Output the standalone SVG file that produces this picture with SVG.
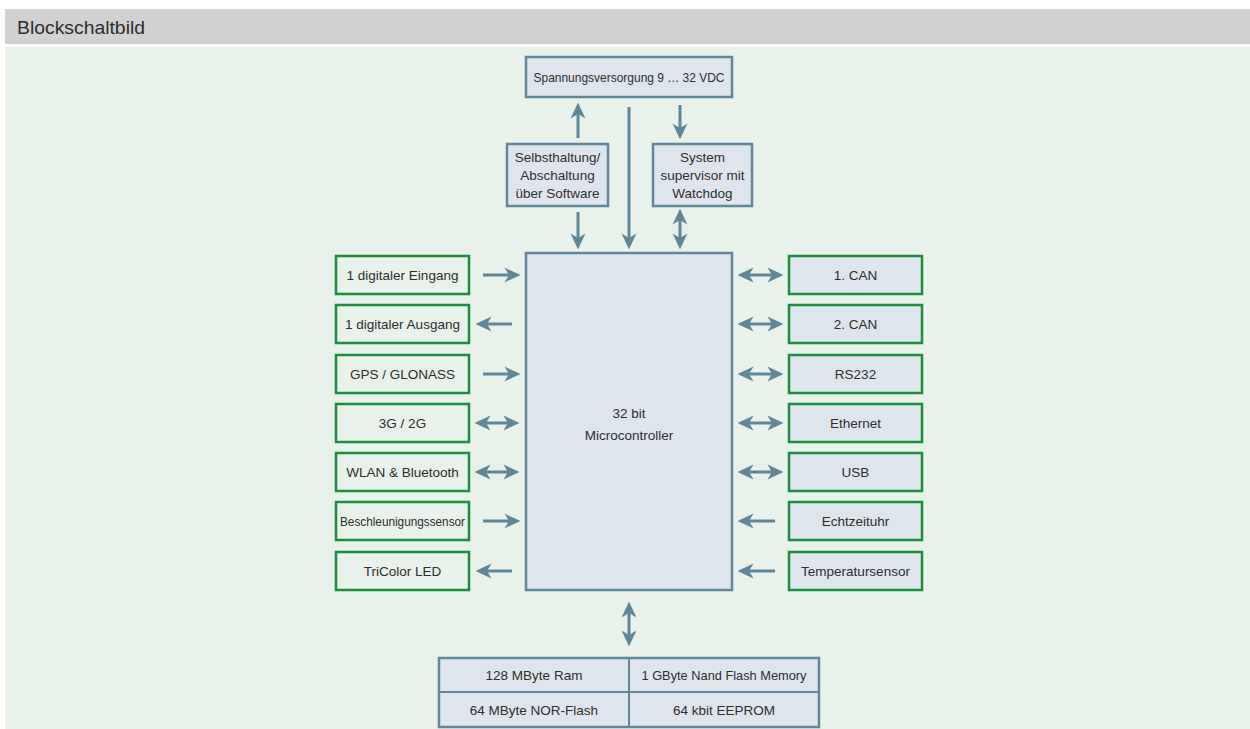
<svg xmlns="http://www.w3.org/2000/svg" width="1250" height="729" viewBox="0 0 1250 729">
<defs>
<style>
.t{font-family:"Liberation Sans",Arial,sans-serif;font-size:13.5px;fill:#2e2e2e;text-anchor:middle}
.g{fill:#e8f1ea;stroke:#1a8f3e;stroke-width:2.5}
.gb{fill:#dee5ec;stroke:#1a8f3e;stroke-width:2.5}
.b{fill:#dee5ec;stroke:#62879a;stroke-width:2.5}
.a{stroke:#5f8798;stroke-width:3;fill:none}
.e{marker-end:url(#ah)}
.d{marker-start:url(#ah);marker-end:url(#ah)}
</style>
<marker id="ah" markerUnits="userSpaceOnUse" markerWidth="16" markerHeight="16" viewBox="0 0 14 14" refX="4" refY="7" orient="auto-start-reverse">
<path d="M0,0.5 L14,7 L0,13.5 L4,7 Z" fill="#5f8798"/>
</marker>
</defs>
<rect x="0" y="0" width="1250" height="729" fill="#ffffff"/>
<rect x="5" y="9" width="1245" height="35" fill="#d1d1d1"/>
<text x="17" y="34" style="font-family:'Liberation Sans',Arial,sans-serif;font-size:19px;fill:#2e2e2e" textLength="128" lengthAdjust="spacingAndGlyphs">Blockschaltbild</text>
<rect x="5" y="47" width="1245" height="682" fill="#e8f1ea"/>

<g id="power"><rect class="b" x="526" y="57" width="206" height="40"/><text class="t" x="629" y="82" textLength="191" lengthAdjust="spacingAndGlyphs">Spannungsversorgung 9 … 32 VDC</text></g>
<g id="selbsthaltung"><rect class="b" x="507" y="144" width="101" height="62"/><text class="t" x="557.5" y="162">Selbsthaltung/</text><text class="t" x="557.5" y="180">Abschaltung</text><text class="t" x="557.5" y="198">über Software</text></g>
<g id="supervisor"><rect class="b" x="653" y="144" width="99" height="62"/><text class="t" x="702.5" y="162">System</text><text class="t" x="702.5" y="180">supervisor mit</text><text class="t" x="702.5" y="198">Watchdog</text></g>
<g id="mcu"><rect class="b" x="526" y="253" width="206" height="337"/><text class="t" x="629" y="418">32 bit</text><text class="t" x="629" y="440">Microcontroller</text></g>

<g id="in1"><rect class="g" x="336" y="256" width="133" height="38"/><text class="t" x="402.5" y="280">1 digitaler Eingang</text></g>
<g id="out1"><rect class="g" x="336" y="305" width="133" height="38"/><text class="t" x="402.5" y="329">1 digitaler Ausgang</text></g>
<g id="gps"><rect class="g" x="336" y="355" width="133" height="38"/><text class="t" x="402.5" y="379">GPS / GLONASS</text></g>
<g id="g3"><rect class="g" x="336" y="404" width="133" height="38"/><text class="t" x="402.5" y="428">3G / 2G</text></g>
<g id="wlan"><rect class="g" x="336" y="453" width="133" height="38"/><text class="t" x="402.5" y="477">WLAN &amp; Bluetooth</text></g>
<g id="accel"><rect class="g" x="336" y="502" width="133" height="38"/><text class="t" x="402.5" y="526" textLength="125" lengthAdjust="spacingAndGlyphs">Beschleunigungssensor</text></g>
<g id="led"><rect class="g" x="336" y="552" width="133" height="38"/><text class="t" x="402.5" y="576">TriColor LED</text></g>

<g id="can1"><rect class="gb" x="789" y="256" width="133" height="38"/><text class="t" x="855.5" y="280">1. CAN</text></g>
<g id="can2"><rect class="gb" x="789" y="305" width="133" height="38"/><text class="t" x="855.5" y="329">2. CAN</text></g>
<g id="rs232"><rect class="gb" x="789" y="355" width="133" height="38"/><text class="t" x="855.5" y="379">RS232</text></g>
<g id="eth"><rect class="gb" x="789" y="404" width="133" height="38"/><text class="t" x="855.5" y="428">Ethernet</text></g>
<g id="usb"><rect class="gb" x="789" y="453" width="133" height="38"/><text class="t" x="855.5" y="477">USB</text></g>
<g id="rtc"><rect class="gb" x="789" y="502" width="133" height="38"/><text class="t" x="855.5" y="526">Echtzeituhr</text></g>
<g id="temp"><rect class="gb" x="789" y="552" width="133" height="38"/><text class="t" x="855.5" y="576">Temperatursensor</text></g>

<g id="memory">
<rect class="b" x="439" y="658" width="380" height="69"/>
<line x1="629" y1="658" x2="629" y2="727" stroke="#62879a" stroke-width="2"/>
<line x1="439" y1="692" x2="819" y2="692" stroke="#62879a" stroke-width="2"/>
<text class="t" x="534" y="680">128 MByte Ram</text>
<text class="t" x="724" y="680" textLength="165" lengthAdjust="spacingAndGlyphs">1 GByte Nand Flash Memory</text>
<text class="t" x="534" y="715">64 MByte NOR-Flash</text>
<text class="t" x="724" y="715">64 kbit EEPROM</text>
</g>

<g id="connectors">
<line class="a e" x1="578" y1="138" x2="578" y2="114"/>
<line class="a e" x1="629" y1="107" x2="629" y2="238"/>
<line class="a e" x1="680" y1="105" x2="680" y2="128"/>
<line class="a e" x1="578" y1="212" x2="578" y2="238"/>
<line class="a d" x1="680" y1="220" x2="680" y2="238"/>
<line class="a d" x1="629" y1="613" x2="629" y2="635"/>

<line class="a e" x1="483" y1="275" x2="509" y2="275"/>
<line class="a e" x1="512" y1="324" x2="487" y2="324"/>
<line class="a e" x1="483" y1="374" x2="509" y2="374"/>
<line class="a d" x1="486" y1="423" x2="508" y2="423"/>
<line class="a d" x1="486" y1="472" x2="508" y2="472"/>
<line class="a e" x1="483" y1="521" x2="509" y2="521"/>
<line class="a e" x1="512" y1="571" x2="487" y2="571"/>

<line class="a d" x1="749" y1="275" x2="772" y2="275"/>
<line class="a d" x1="749" y1="324" x2="772" y2="324"/>
<line class="a d" x1="749" y1="374" x2="772" y2="374"/>
<line class="a d" x1="749" y1="423" x2="772" y2="423"/>
<line class="a d" x1="749" y1="472" x2="772" y2="472"/>
<line class="a e" x1="775" y1="521" x2="749" y2="521"/>
<line class="a e" x1="775" y1="571" x2="749" y2="571"/>
</g>
</svg>
